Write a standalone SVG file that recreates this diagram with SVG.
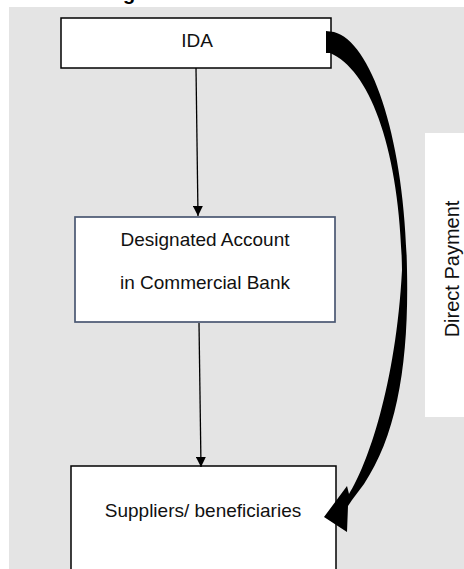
<svg xmlns="http://www.w3.org/2000/svg" width="464" height="569" viewBox="0 0 464 569">
  <defs>
    <style>
      .lbl { font-family: "Liberation Sans", Arial, sans-serif; font-size: 19px; fill: #111; text-anchor: middle; }
      .box { fill: #ffffff; stroke: #000000; stroke-width: 1.5; }
      .conn { stroke: #000000; stroke-width: 1.3; fill: none; marker-end: url(#ah); }
    </style>
    <marker id="ah" viewBox="0 0 10 10" refX="10" refY="5" markerWidth="10" markerHeight="10" markerUnits="userSpaceOnUse" orient="auto">
      <path d="M0,0 L10,5 L0,10 Z" fill="#000"/>
    </marker>
  </defs>

  <rect x="0" y="0" width="464" height="569" fill="#ffffff"/>
  <rect x="9" y="7" width="455" height="562" fill="#e4e4e4"/>
  <text x="123" y="0" font-family="Liberation Sans, Arial, sans-serif" font-size="20" font-weight="bold" fill="#000">g</text>

  <g id="direct-payment">
    <rect x="425" y="133" width="39" height="284" fill="#ffffff"/>
    <text class="lbl" style="font-size:20px" transform="translate(459,269) rotate(-90)" x="0" y="0">Direct Payment</text>
  </g>

  <g id="ida">
    <rect class="box" x="61" y="18" width="270" height="50"/>
    <text class="lbl" x="197" y="47">IDA</text>
  </g>

  <g id="designated-account">
    <rect x="75" y="217" width="260" height="105" fill="#ffffff" stroke="#4a5872" stroke-width="1.7"/>
    <text class="lbl" x="205" y="246">Designated Account</text>
    <text class="lbl" x="205" y="289">in Commercial Bank</text>
  </g>

  <g id="suppliers">
    <rect class="box" x="71" y="466" width="265" height="110"/>
    <text class="lbl" x="203" y="517">Suppliers/ beneficiaries</text>
  </g>

  <g id="connectors">
    <line class="conn" x1="196" y1="68" x2="198" y2="216"/>
    <line class="conn" x1="199" y1="323" x2="201" y2="467"/>
    <path id="direct-payment-arrow" fill="#000" d="M326,31 L334,32 C372,42 405,140 407,270 C409,362 397,435 364,484 L352,500 L348,506 L347,532 L324,517 L347,486 L349,494 C367,466 396,385 402,270 C400,150 370,70 330,53 L326,53 Z"/>
  </g>
</svg>
